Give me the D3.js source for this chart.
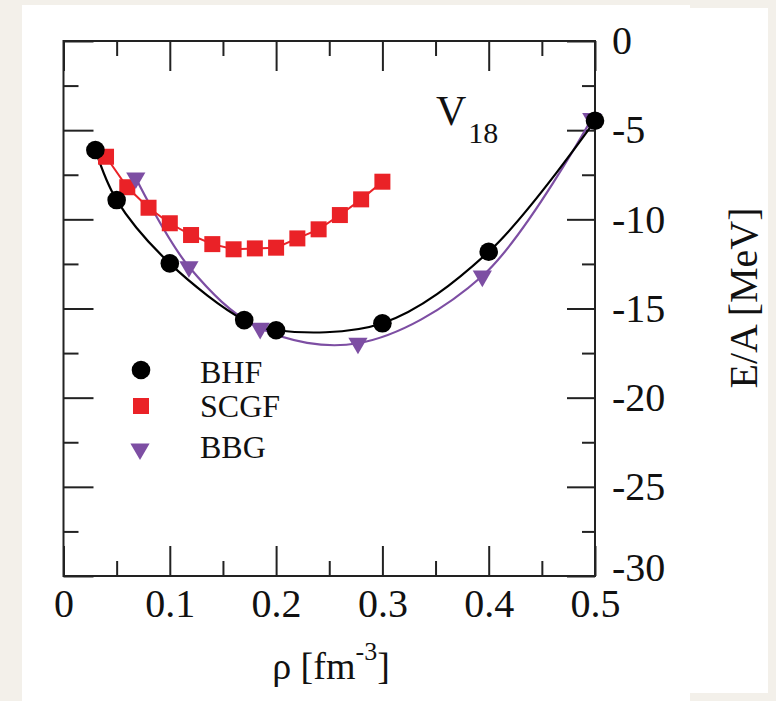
<!DOCTYPE html>
<html>
<head>
<meta charset="utf-8">
<script src="https://cdn.jsdelivr.net/npm/d3@7"></script>
<style>
  html,body{margin:0;padding:0;background:#f3f0ea;}
  svg{display:block;}
  text{font-family:"Liberation Serif","Times New Roman",serif;fill:#111;}
</style>
</head>
<body>
<svg id="chart" width="776" height="701"></svg>
<script>
// ---- data ----
const bhfRho  = [0.03, 0.05, 0.10, 0.17, 0.20, 0.30, 0.40, 0.50];
const bhfE    = [-6.11, -8.92, -12.47, -15.65, -16.22, -15.83, -11.82, -4.47];
const scgfRho = [0.04, 0.06, 0.08, 0.10, 0.12, 0.14, 0.16, 0.18, 0.20, 0.22, 0.24, 0.26, 0.28, 0.30];
const scgfE   = [-6.49, -8.2, -9.35, -10.22, -10.88, -11.39, -11.68, -11.63, -11.59, -11.07, -10.56, -9.76, -8.88, -7.89];
const bbgRho  = [0.068, 0.118, 0.185, 0.277, 0.394, 0.497];
const bbgE    = [-7.68, -12.66, -16.11, -16.95, -13.18, -4.35];
const seriesNames = ["BHF", "SCGF", "BBG"];
const xMajorTicks = [0, 0.1, 0.2, 0.3, 0.4, 0.5];
const xMinorTicks = [0.05, 0.15, 0.25, 0.35, 0.45];
const yMajorTicks = [0, -5, -10, -15, -20, -25, -30];
const yMinorTicks = [-2.5, -7.5, -12.5, -17.5, -22.5, -27.5];

const svg = d3.select("#chart");
const W = 776, H = 701;
const X0 = 63.5, X1 = 595, Y0 = 41, Y1 = 576;
const colBHF = "#000000", colSCGF = "#ea2227", colBBG = "#7d4ea3";
const axisCol = "#222";

// background paper
svg.append("rect").attr("x",0).attr("y",0).attr("width",W).attr("height",H).attr("fill","#f3f0ea");
svg.append("rect").attr("x",22).attr("y",5).attr("width",668).attr("height",696).attr("fill","#fff");
svg.append("rect").attr("x",690).attr("y",8).attr("width",78).attr("height",685).attr("fill","#fff");

const x = d3.scaleLinear().domain([0, 0.5]).range([X0, X1]);
const y = d3.scaleLinear().domain([-30, 0]).range([Y1, Y0]);

function styleAxis(g){
  g.select(".domain").remove();
  g.selectAll(".tick line").attr("stroke", axisCol).attr("stroke-width", 2);
}
const fontFam = "Liberation Serif, Times New Roman, serif";

// bottom axis with labels
svg.append("g").attr("transform",`translate(0,${Y1})`)
  .call(d3.axisBottom(x).tickValues(xMajorTicks).tickSize(-30).tickPadding(13).tickFormat(d => d === 0 ? "0" : d3.format(".1f")(d)))
  .call(styleAxis)
  .call(g => g.selectAll("text").attr("font-size", 40).attr("fill","#111").attr("font-family",fontFam));
svg.append("g").attr("transform",`translate(0,${Y1})`)
  .call(d3.axisBottom(x).tickValues(xMinorTicks).tickSize(-15).tickFormat(""))
  .call(styleAxis);
// top axis
svg.append("g").attr("transform",`translate(0,${Y0})`)
  .call(d3.axisTop(x).tickValues(xMajorTicks).tickSize(-30).tickFormat(""))
  .call(styleAxis);
svg.append("g").attr("transform",`translate(0,${Y0})`)
  .call(d3.axisTop(x).tickValues(xMinorTicks).tickSize(-15).tickFormat(""))
  .call(styleAxis);
// left axis
svg.append("g").attr("transform",`translate(${X0},0)`)
  .call(d3.axisLeft(y).tickValues(yMajorTicks).tickSize(-30).tickFormat(""))
  .call(styleAxis);
svg.append("g").attr("transform",`translate(${X0},0)`)
  .call(d3.axisLeft(y).tickValues(yMinorTicks).tickSize(-15).tickFormat(""))
  .call(styleAxis);
// right axis with labels
svg.append("g").attr("transform",`translate(${X1},0)`)
  .call(d3.axisRight(y).tickValues(yMajorTicks).tickSize(-28).tickPadding(17).tickFormat(d => String(d)))
  .call(styleAxis)
  .call(g => g.selectAll("text").attr("font-size", 40).attr("fill","#111").attr("font-family",fontFam)
      .attr("dy", d => d === -30 ? "0.1em" : "0.32em"));
svg.append("g").attr("transform",`translate(${X1},0)`)
  .call(d3.axisRight(y).tickValues(yMinorTicks).tickSize(-13).tickFormat(""))
  .call(styleAxis);

// frame
svg.append("rect").attr("x",X0).attr("y",Y0).attr("width",X1-X0).attr("height",Y1-Y0)
  .attr("fill","none").attr("stroke",axisCol).attr("stroke-width",2);

// data tables
const bhf  = bhfRho.map((r,i) => ({r, e: bhfE[i]}));
const scgf = scgfRho.map((r,i) => ({r, e: scgfE[i]}));
const bbg  = bbgRho.map((r,i) => ({r, e: bbgE[i]}));

const smooth = d3.line().x(d => x(d.r)).y(d => y(d.e)).curve(d3.curveCatmullRom.alpha(0.5));
const straight = d3.line().x(d => x(d.r)).y(d => y(d.e));

svg.append("path").datum(scgf).attr("d", straight).attr("fill","none").attr("stroke",colSCGF).attr("stroke-width",2);
svg.append("path").datum(bbg).attr("d", smooth).attr("fill","none").attr("stroke",colBBG).attr("stroke-width",2.2);
svg.append("path").datum(bhf).attr("d", smooth).attr("fill","none").attr("stroke",colBHF).attr("stroke-width",2.2);

const sq = 16;
svg.append("g").selectAll("rect").data(scgf).join("rect")
  .attr("x", d => x(d.r) - sq/2).attr("y", d => y(d.e) - sq/2)
  .attr("width", sq).attr("height", sq).attr("fill", colSCGF);

const tri = d3.symbol().type(d3.symbolTriangle).size(160);
svg.append("g").selectAll("path").data(bbg).join("path")
  .attr("d", tri)
  .attr("transform", d => `translate(${x(d.r)},${y(d.e)}) rotate(180)`)
  .attr("fill", colBBG);

svg.append("g").selectAll("circle").data(bhf).join("circle")
  .attr("cx", d => x(d.r)).attr("cy", d => y(d.e)).attr("r", 9.3).attr("fill", colBHF);

// legend
const lg = svg.append("g");
const legendY = [370, 406, 449];
const legendBase = [383, 417, 458];
lg.append("circle").attr("cx",141).attr("cy",legendY[0]).attr("r",9.3).attr("fill",colBHF);
lg.append("rect").attr("x",141-8).attr("y",legendY[1]-8).attr("width",16).attr("height",16).attr("fill",colSCGF);
lg.append("path").attr("d",tri).attr("transform",`translate(140,${legendY[2]}) rotate(180)`).attr("fill",colBBG);
seriesNames.forEach((n,i) => {
  lg.append("text").attr("x",200).attr("y",legendBase[i]).attr("font-size",32).text(n);
});

// V18 annotation
const v = svg.append("text").attr("x",436).attr("y",125).attr("font-size",42);
v.append("tspan").text("V");
v.append("tspan").attr("font-size",30).attr("dx",2).attr("dy",18).text("18");

// x title
const xt = svg.append("text").attr("x",331).attr("y",679).attr("font-size",38).attr("text-anchor","middle");
xt.append("tspan").text("ρ [fm");
xt.append("tspan").attr("font-size",26).attr("dy",-19).text("-3");
xt.append("tspan").attr("dy",19).text("]");

// y title
svg.append("text").attr("transform","translate(757,298) rotate(-90)")
  .attr("font-size",40).attr("text-anchor","middle").text("E/A [MeV]");
</script>
</body>
</html>
